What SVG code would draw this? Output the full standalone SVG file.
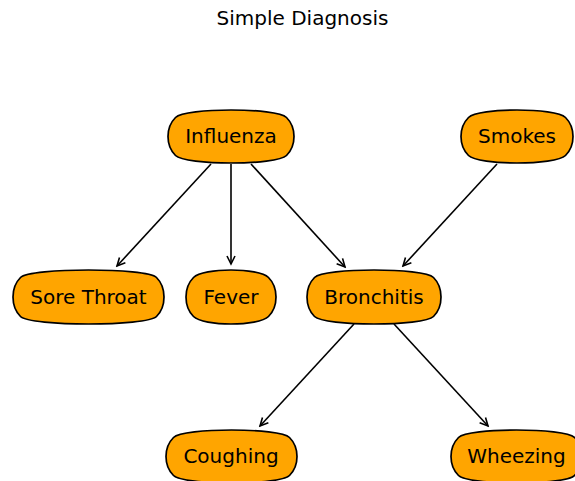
<svg xmlns="http://www.w3.org/2000/svg" width="575" height="481" viewBox="0 0 575 481">
<style>
.node path{fill:#FFA500;stroke:#000;stroke-width:1.7}
.node text,.title{font-family:"DejaVu Sans",sans-serif;font-size:20px;text-anchor:middle;fill:#000}
.edges line{stroke:#000;stroke-width:1.6;fill:none}
</style>
<defs>
<marker id="arr" viewBox="-10 -6 12 12" refX="0" refY="0" markerWidth="12" markerHeight="12" markerUnits="userSpaceOnUse" orient="auto">
<path d="M-8,-4 L0,0 L-8,4" fill="none" stroke="#000" stroke-width="1.6"/>
</marker>
</defs>
<rect width="575" height="481" fill="#fff"/>
<text class="title" x="302.5" y="25">Simple Diagnosis</text>
<g class="edges">
<line x1="211" y1="164" x2="117" y2="266" marker-end="url(#arr)"/>
<line x1="231" y1="164" x2="231" y2="264" marker-end="url(#arr)"/>
<line x1="251" y1="164" x2="345" y2="267" marker-end="url(#arr)"/>
<line x1="497" y1="164" x2="403" y2="266" marker-end="url(#arr)"/>
<line x1="354" y1="324" x2="260" y2="426" marker-end="url(#arr)"/>
<line x1="394" y1="324" x2="488" y2="426" marker-end="url(#arr)"/>
</g>
<g id="influenza" class="node">
<path d="M175.5,117.5 C185.5,107.5 276.5,107.5 286.5,117.5 C296.5,127.5 296.5,145.5 286.5,155.5 C276.5,165.5 185.5,165.5 175.5,155.5 C165.5,145.5 165.5,127.5 175.5,117.5 Z"/>
<text x="231" y="143">Influenza</text>
</g>
<g id="smokes" class="node">
<path d="M468.5,117.5 C478.5,107.5 555.5,107.5 565.5,117.5 C575.5,127.5 575.5,145.5 565.5,155.5 C555.5,165.5 478.5,165.5 468.5,155.5 C458.5,145.5 458.5,127.5 468.5,117.5 Z"/>
<text x="517" y="143">Smokes</text>
</g>
<g id="sore_throat" class="node">
<path d="M20.5,277.5 C30.5,267.5 146.5,267.5 156.5,277.5 C166.5,287.5 166.5,306.5 156.5,316.5 C146.5,326.5 30.5,326.5 20.5,316.5 C10.5,306.5 10.5,287.5 20.5,277.5 Z"/>
<text x="88.5" y="304">Sore Throat</text>
</g>
<g id="fever" class="node">
<path d="M193.5,277.5 C203.5,267.5 258.5,267.5 268.5,277.5 C278.5,287.5 278.5,306.5 268.5,316.5 C258.5,326.5 203.5,326.5 193.5,316.5 C183.5,306.5 183.5,287.5 193.5,277.5 Z"/>
<text x="231" y="304">Fever</text>
</g>
<g id="bronchitis" class="node">
<path d="M314.5,277.5 C324.5,267.5 423.5,267.5 433.5,277.5 C443.5,287.5 443.5,306.5 433.5,316.5 C423.5,326.5 324.5,326.5 314.5,316.5 C304.5,306.5 304.5,287.5 314.5,277.5 Z"/>
<text x="374" y="304">Bronchitis</text>
</g>
<g id="coughing" class="node">
<path d="M173.5,437.5 C183.5,427.5 279.5,427.5 289.5,437.5 C299.5,447.5 299.5,465.5 289.5,475.5 C279.5,485.5 183.5,485.5 173.5,475.5 C163.5,465.5 163.5,447.5 173.5,437.5 Z"/>
<text x="231" y="463">Coughing</text>
</g>
<g id="wheezing" class="node">
<path d="M458.5,437.5 C468.5,427.5 564.5,427.5 574.5,437.5 C584.5,447.5 584.5,465.5 574.5,475.5 C564.5,485.5 468.5,485.5 458.5,475.5 C448.5,465.5 448.5,447.5 458.5,437.5 Z"/>
<text x="516.5" y="463">Wheezing</text>
</g>
</svg>
